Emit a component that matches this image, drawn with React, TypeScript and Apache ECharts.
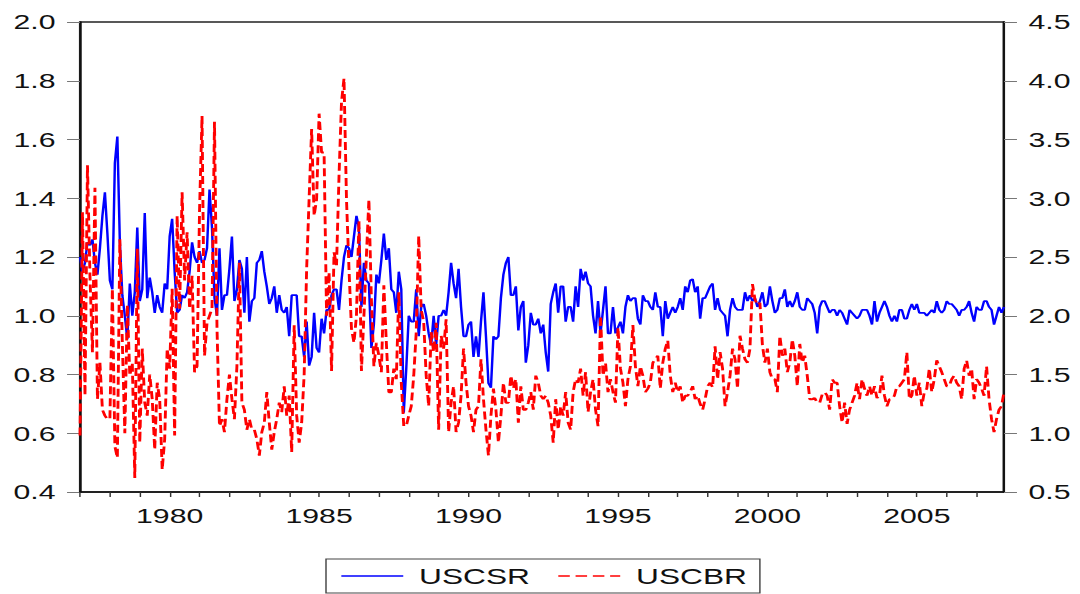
import React, { useEffect, useRef } from "react";
import * as echarts from "echarts";

// Monthly observations, 1977M01 .. 2007M12
const START_YEAR = 1977;
const END_YEAR = 2007;
const LABEL_YEARS = [1980, 1985, 1990, 1995, 2000, 2005];

// USCSR (left axis)
const usCSR = [
  1.2, 1.15, 1.18, 1.25, 1.24, 1.26, 1.18, 1.14, 1.23, 1.34, 1.42, 1.28, // 1977
  1.12, 1.09, 1.52, 1.61, 1.25, 1.07, 1.0, 0.92, 1.11, 1.0, 1.08, 1.3, // 1978
  1.05, 1.09, 1.35, 1.06, 1.13, 1.08, 1.01, 1.07, 1.03, 1.01, 1.11, 1.09, // 1979
  1.27, 1.33, 1.15, 1.01, 1.02, 1.07, 1.06, 1.08, 1.15, 1.25, 1.2, 1.18, // 1980
  1.22, 1.18, 1.19, 1.23, 1.43, 1.3, 1.06, 1.0, 1.23, 1.02, 1.07, 1.07, // 1981
  1.16, 1.27, 1.05, 1.09, 1.19, 1.16, 1.01, 1.2, 0.98, 1.05, 1.06, 1.18, // 1982
  1.19, 1.22, 1.15, 1.1, 1.04, 1.06, 1.1, 1.01, 1.07, 1.02, 1.01, 1.03, // 1983
  0.93, 1.07, 1.07, 1.07, 0.93, 0.93, 0.86, 0.98, 0.83, 0.86, 1.01, 0.89, // 1984
  0.875, 0.99, 0.94, 1.02, 1.02, 1.07, 1.09, 1.09, 1.02, 1.12, 1.2, 1.24, // 1985
  1.23, 1.2, 1.27, 1.34, 1.3, 1.03, 1.18, 1.12, 1.11, 0.89, 0.97, 1.14, // 1986
  1.11, 1.19, 1.28, 1.19, 1.23, 1.09, 1.08, 1.01, 1.15, 1.09, 0.67, 0.82, // 1987
  1.0, 0.98, 0.98, 1.09, 0.93, 1.03, 1.04, 1.0, 0.94, 0.9, 1.0, 0.9, // 1988
  1.0, 1.0, 1.02, 1.0, 1.08, 1.18, 1.11, 1.06, 1.16, 1.03, 0.93, 0.93, // 1989
  0.97, 0.98, 0.86, 0.93, 0.86, 0.98, 1.08, 0.93, 0.77, 0.755, 0.93, 0.92, // 1990
  0.93, 1.06, 1.14, 1.18, 1.2, 1.07, 1.07, 1.1, 0.95, 1.03, 1.05, 0.84, // 1991
  0.9, 1.01, 0.97, 0.97, 0.99, 0.94, 0.97, 0.875, 0.81, 1.04, 1.08, 1.11, // 1992
  1.01, 1.1, 1.1, 0.98, 1.03, 1.03, 0.98, 1.1, 1.03, 1.16, 1.12, 1.15, // 1993
  1.11, 1.1, 1.0, 0.94, 1.05, 0.94, 1.02, 1.1, 0.94, 0.94, 1.03, 0.94, // 1994
  0.96, 0.98, 0.94, 1.03, 1.07, 1.05, 1.06, 1.06, 0.99, 0.97, 1.07, 1.05, // 1995
  1.05, 1.03, 1.02, 1.08, 1.03, 1.03, 0.93, 1.05, 0.99, 1.01, 1.03, 1.01, // 1996
  1.03, 1.06, 1.02, 1.1, 1.08, 1.12, 1.125, 1.08, 1.1, 0.99, 1.06, 1.06, // 1997
  1.08, 1.1, 1.11, 1.02, 1.06, 1.02, 1.01, 1.0, 0.93, 1.02, 1.06, 1.03, // 1998
  1.02, 1.02, 1.02, 1.08, 1.05, 1.07, 1.05, 1.06, 1.03, 1.05, 1.08, 1.03, // 1999
  1.04, 1.1, 1.05, 1.01, 1.02, 1.06, 1.06, 1.09, 1.03, 1.05, 1.03, 1.05, // 2000
  1.08, 1.03, 1.02, 1.02, 1.06, 1.05, 1.04, 1.01, 0.94, 1.03, 1.05, 1.05, // 2001
  1.03, 1.01, 1.02, 1.02, 1.0, 1.02, 1.01, 0.99, 0.97, 1.02, 1.01, 1.0, // 2002
  0.99, 1.0, 1.02, 1.02, 1.02, 1.0, 0.97, 1.05, 0.98, 1.01, 1.03, 1.05, // 2003
  1.03, 1.0, 0.98, 1.0, 0.98, 1.02, 1.02, 0.99, 0.99, 1.02, 1.04, 1.02, // 2004
  1.04, 1.01, 1.01, 1.01, 1.0, 1.01, 1.02, 1.01, 1.05, 1.02, 1.01, 1.02, // 2005
  1.05, 1.04, 1.04, 1.03, 1.02, 1.0, 1.02, 1.02, 1.03, 1.05, 1.01, 0.98, // 2006
  1.03, 1.02, 1.02, 1.05, 1.05, 1.03, 1.02, 0.97, 1.0, 1.03, 1.01, 1.03, // 2007
];

// USCBR (right axis)
const usCBR = [
  0.98, 2.88, 1.32, 3.28, 2.34, 1.69, 3.09, 1.29, 1.6, 1.2, 1.15, 1.12, // 1977
  1.12, 2.23, 0.89, 0.79, 2.65, 1.77, 1.0, 2.09, 1.49, 1.6, 0.62, 2.57, // 1978
  0.92, 1.72, 1.26, 1.15, 1.5, 1.29, 0.86, 1.43, 1.29, 0.69, 0.95, 1.72, // 1979
  1.55, 2.23, 0.98, 2.85, 2.06, 3.05, 2.3, 2.71, 2.06, 2.34, 1.52, 1.57, // 1980
  2.9, 3.7, 1.66, 1.94, 2.0, 2.06, 3.65, 1.9, 1.06, 1.12, 1.01, 1.29, // 1981
  1.5, 1.29, 1.12, 1.57, 2.45, 1.26, 1.2, 1.03, 1.12, 1.03, 1.03, 0.95, // 1982
  0.81, 1.01, 1.09, 1.35, 1.09, 0.86, 1.01, 1.12, 1.26, 1.18, 1.4, 1.15, // 1983
  1.32, 0.84, 1.92, 1.15, 0.92, 1.09, 1.5, 2.4, 3.0, 3.59, 2.85, 2.99, // 1984
  3.72, 3.39, 3.39, 2.0, 2.37, 1.53, 2.54, 2.43, 3.19, 3.82, 4.02, 2.99, // 1985
  2.4, 1.89, 1.77, 2.0, 2.81, 1.53, 2.0, 2.51, 2.99, 2.14, 1.57, 1.77, // 1986
  1.66, 1.52, 2.26, 1.77, 1.35, 1.35, 1.55, 1.46, 2.2, 1.43, 1.06, 1.06, // 1987
  1.15, 1.23, 1.49, 1.86, 2.68, 2.05, 1.95, 1.49, 1.23, 1.86, 1.69, 1.94, // 1988
  1.03, 1.83, 1.72, 1.97, 1.01, 1.26, 1.4, 1.01, 1.09, 1.32, 1.72, 1.43, // 1989
  1.23, 1.15, 1.01, 1.2, 1.23, 1.63, 1.29, 1.03, 0.81, 1.15, 1.38, 1.2, // 1990
  0.92, 1.15, 1.43, 1.26, 1.26, 1.49, 1.38, 1.46, 1.09, 1.4, 1.2, 1.2, // 1991
  1.26, 1.35, 1.2, 1.49, 1.43, 1.32, 1.29, 1.32, 1.26, 1.15, 0.92, 1.29, // 1992
  1.03, 1.23, 1.15, 1.35, 1.09, 1.03, 1.35, 1.46, 1.43, 1.55, 1.32, 1.52, // 1993
  1.18, 1.35, 1.46, 1.2, 1.06, 2.0, 1.49, 1.6, 1.35, 1.46, 1.35, 1.26, // 1994
  1.9, 1.55, 1.43, 1.23, 1.46, 1.57, 1.92, 1.57, 1.4, 1.57, 1.49, 1.35, // 1995
  1.38, 1.43, 1.6, 1.63, 1.66, 1.38, 1.6, 1.72, 1.79, 1.49, 1.35, 1.43, // 1996
  1.35, 1.4, 1.26, 1.32, 1.32, 1.35, 1.4, 1.29, 1.32, 1.25, 1.2, 1.29, // 1997
  1.4, 1.43, 1.39, 1.74, 1.46, 1.69, 1.55, 1.23, 1.35, 1.49, 1.72, 1.63, // 1998
  1.38, 1.83, 1.72, 1.63, 1.6, 1.72, 2.27, 2.14, 2.09, 2.11, 1.75, 1.6, // 1999
  1.72, 1.52, 1.46, 1.46, 1.35, 1.83, 1.66, 1.72, 1.52, 1.6, 1.8, 1.66, // 2000
  1.4, 1.76, 1.6, 1.66, 1.49, 1.29, 1.29, 1.3, 1.26, 1.26, 1.33, 1.35, // 2001
  1.32, 1.2, 1.46, 1.43, 1.43, 1.23, 1.09, 1.26, 1.08, 1.2, 1.26, 1.32, // 2002
  1.43, 1.29, 1.46, 1.38, 1.32, 1.4, 1.32, 1.4, 1.3, 1.32, 1.49, 1.32, // 2003
  1.23, 1.29, 1.29, 1.32, 1.4, 1.4, 1.43, 1.46, 1.69, 1.29, 1.32, 1.49, // 2004
  1.32, 1.43, 1.23, 1.35, 1.38, 1.55, 1.35, 1.46, 1.62, 1.57, 1.52, 1.46, // 2005
  1.4, 1.4, 1.46, 1.49, 1.43, 1.4, 1.29, 1.55, 1.62, 1.49, 1.55, 1.29, // 2006
  1.46, 1.43, 1.38, 1.32, 1.57, 1.29, 1.12, 1.01, 1.12, 1.2, 1.23, 1.35, // 2007
];

const months: string[] = [];
for (let y = START_YEAR; y <= END_YEAR; y++) {
  for (let m = 1; m <= 12; m++) months.push(`${y}M${String(m).padStart(2, "0")}`);
}

const SX = 1.44; // horizontal stretch of the original picture
const W = 750;
const H = 594;
const FONT = "'Liberation Sans', Arial, sans-serif";

export default function App() {
  const ref = useRef<HTMLDivElement>(null);
  useEffect(() => {
    if (!ref.current) return;
    const chart = echarts.init(ref.current, null, { renderer: "svg", width: W, height: H });
    chart.setOption({
      animation: false,
      backgroundColor: "#ffffff",
      grid: {
        left: 80 / SX,
        right: W - 1004 / SX,
        top: 22,
        bottom: H - 492,
        show: true,
        borderColor: "#222",
        borderWidth: 1.5,
        backgroundColor: "transparent",
      },
      legend: {
        left: 326 / SX,
        top: 559,
        orient: "horizontal",
        borderColor: "#444",
        borderWidth: 1,
        padding: [6, 9, 6, 10],
        itemWidth: 43,
        itemHeight: 14,
        itemGap: 19,
        itemStyle: { opacity: 0 },
        lineStyle: { width: 1.3 },
        textStyle: { fontFamily: FONT, fontSize: 22, color: "#111", padding: [0, 0, 0, 6] },
        data: ["USCSR", "USCBR"],
      },
      xAxis: {
        type: "category",
        data: months,
        boundaryGap: false,
        axisLine: { show: true, lineStyle: { color: "#111", width: 1.5 } },
        axisTick: {
          show: true,
          inside: false,
          length: 5,
          interval: (i: number) => i % 12 === 0,
          lineStyle: { color: "#333", width: 1 },
        },
        axisLabel: {
          interval: (i: number, v: string) =>
            i % 12 === 0 && LABEL_YEARS.includes(Number(v.slice(0, 4))),
          formatter: (v: string) => v.slice(0, 4),
          fontFamily: FONT,
          fontSize: 21,
          color: "#111",
          margin: 13,
        },
        splitLine: { show: false },
      },
      yAxis: [
        {
          type: "value",
          position: "left",
          min: 0.4,
          max: 2.0,
          interval: 0.2,
          axisLine: { show: true, lineStyle: { color: "#111", width: 1.5 } },
          axisTick: { show: true, length: 9, lineStyle: { color: "#777", width: 1 } },
          axisLabel: {
            formatter: (v: number) => v.toFixed(1),
            fontFamily: FONT,
            fontSize: 21,
            color: "#111",
            margin: 17,
          },
          splitLine: { show: false },
        },
        {
          type: "value",
          position: "right",
          min: 0.5,
          max: 4.5,
          interval: 0.5,
          axisLine: { show: true, lineStyle: { color: "#111", width: 1.5 } },
          axisTick: { show: true, length: 9, lineStyle: { color: "#777", width: 1 } },
          axisLabel: {
            formatter: (v: number) => v.toFixed(1),
            fontFamily: FONT,
            fontSize: 21,
            color: "#111",
            margin: 17,
          },
          splitLine: { show: false },
        },
      ],
      series: [
        {
          name: "USCSR",
          type: "line",
          yAxisIndex: 0,
          data: usCSR,
          symbol: "none",
          lineStyle: { color: "#0000ff", width: 1.7 },
          itemStyle: { color: "#0000ff" },
          z: 2,
        },
        {
          name: "USCBR",
          type: "line",
          yAxisIndex: 1,
          data: usCBR,
          symbol: "none",
          lineStyle: { color: "#ff0000", width: 2, type: [8, 4] },
          itemStyle: { color: "#ff0000" },
          z: 3,
        },
      ],
    });
    return () => chart.dispose();
  }, []);
  return (
    <div
      ref={ref}
      style={{
        position: "fixed",
        left: 0,
        top: 0,
        width: W,
        height: H,
        transform: `scaleX(${SX})`,
        transformOrigin: "0 0",
        background: "#fff",
      }}
    />
  );
}
